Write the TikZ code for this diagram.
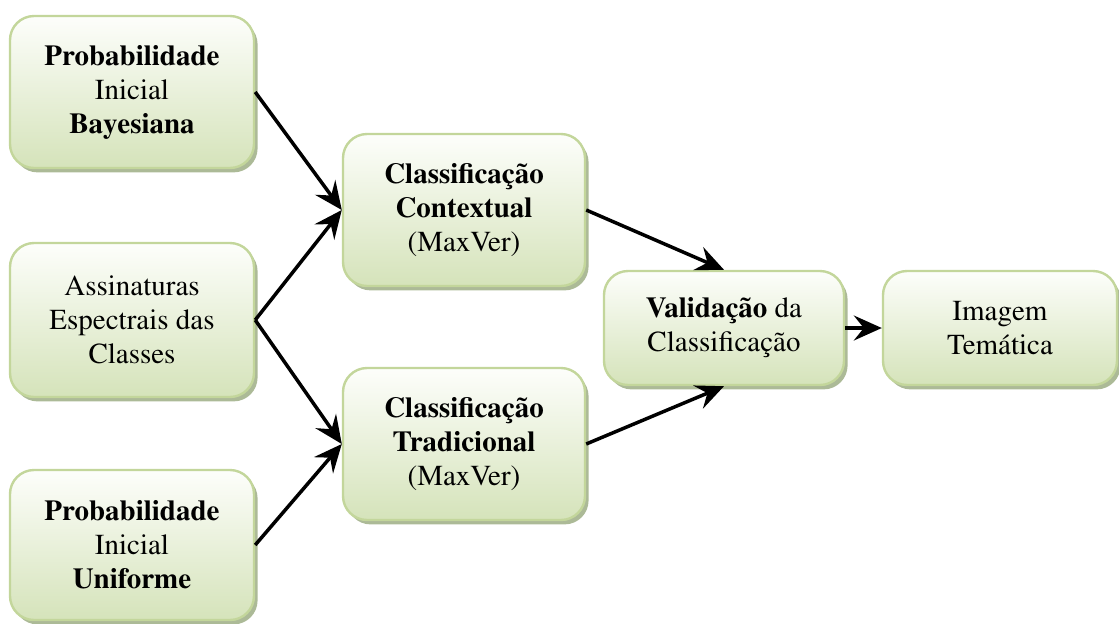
\documentclass[tikz,border=0pt]{standalone}
\usepackage[T1]{fontenc}
\renewcommand{\rmdefault}{ptm}
\usepackage{tikz}
\usetikzlibrary{arrows.meta, shadows}
\definecolor{boxtop}{HTML}{FDFEFB}
\definecolor{boxbottom}{HTML}{D5E3BA}
\definecolor{boxline}{HTML}{C3D69B}
\definecolor{boxshadow}{HTML}{A3B28C}

\begin{document}
\begin{tikzpicture}[x=0.5pt, y=-0.5pt,
    etapa/.style={rounded corners=12pt, draw=boxline, line width=1.2pt,
        top color=boxtop, bottom color=boxbottom, align=center, inner sep=0pt,
        font=\fontsize{14.5}{17}\selectfont,
        drop shadow={shadow xshift=1.8pt, shadow yshift=-2.2pt, fill=boxshadow, opacity=0.9}},
    seta/.style={black, line width=1.75pt, -{Stealth[length=14pt, width=12.5pt, inset=5pt]}}]
    \useasboundingbox (0,0) rectangle (1119,623);
    %
    \node[etapa, minimum width=122pt, minimum height=76pt] (bayes) at (132,92)
        {\textbf{Probabilidade}\\Inicial\\\textbf{Bayesiana}};
    \node[etapa, minimum width=122pt, minimum height=77pt] (assin) at (132,320)
        {Assinaturas\\Espectrais das\\Classes};
    \node[etapa, minimum width=122pt, minimum height=75pt] (unif) at (132,545)
        {\textbf{Probabilidade}\\Inicial\\\textbf{Uniforme}};
    %
    \node[etapa, minimum width=121pt, minimum height=76pt] (contx) at (464,210)
        {\textbf{Classificação}\\\textbf{Contextual}\\(MaxVer)};
    \node[etapa, minimum width=121pt, minimum height=76pt] (trad) at (464,444)
        {\textbf{Classificação}\\\textbf{Tradicional}\\(MaxVer)};
    %
    \node[etapa, minimum width=120pt, minimum height=57pt] (valid) at (724,328)
        {\textbf{Validação} da\\Classificação};
    \node[etapa, minimum width=117pt, minimum height=57pt] (imagem) at (1000,328)
        {Imagem\\Temática};
    %
    \draw[seta] (bayes.east) -- (contx.west);
    \draw[seta] (assin.east) -- (contx.west);
    \draw[seta] (assin.east) -- (trad.west);
    \draw[seta] (unif.east) -- (trad.west);
    %
    \draw[seta] (contx.east) -- (valid.north);
    \draw[seta] (trad.east) -- (valid.south);
    \draw[seta] (valid.east) -- (imagem.west);
\end{tikzpicture}
\end{document}
